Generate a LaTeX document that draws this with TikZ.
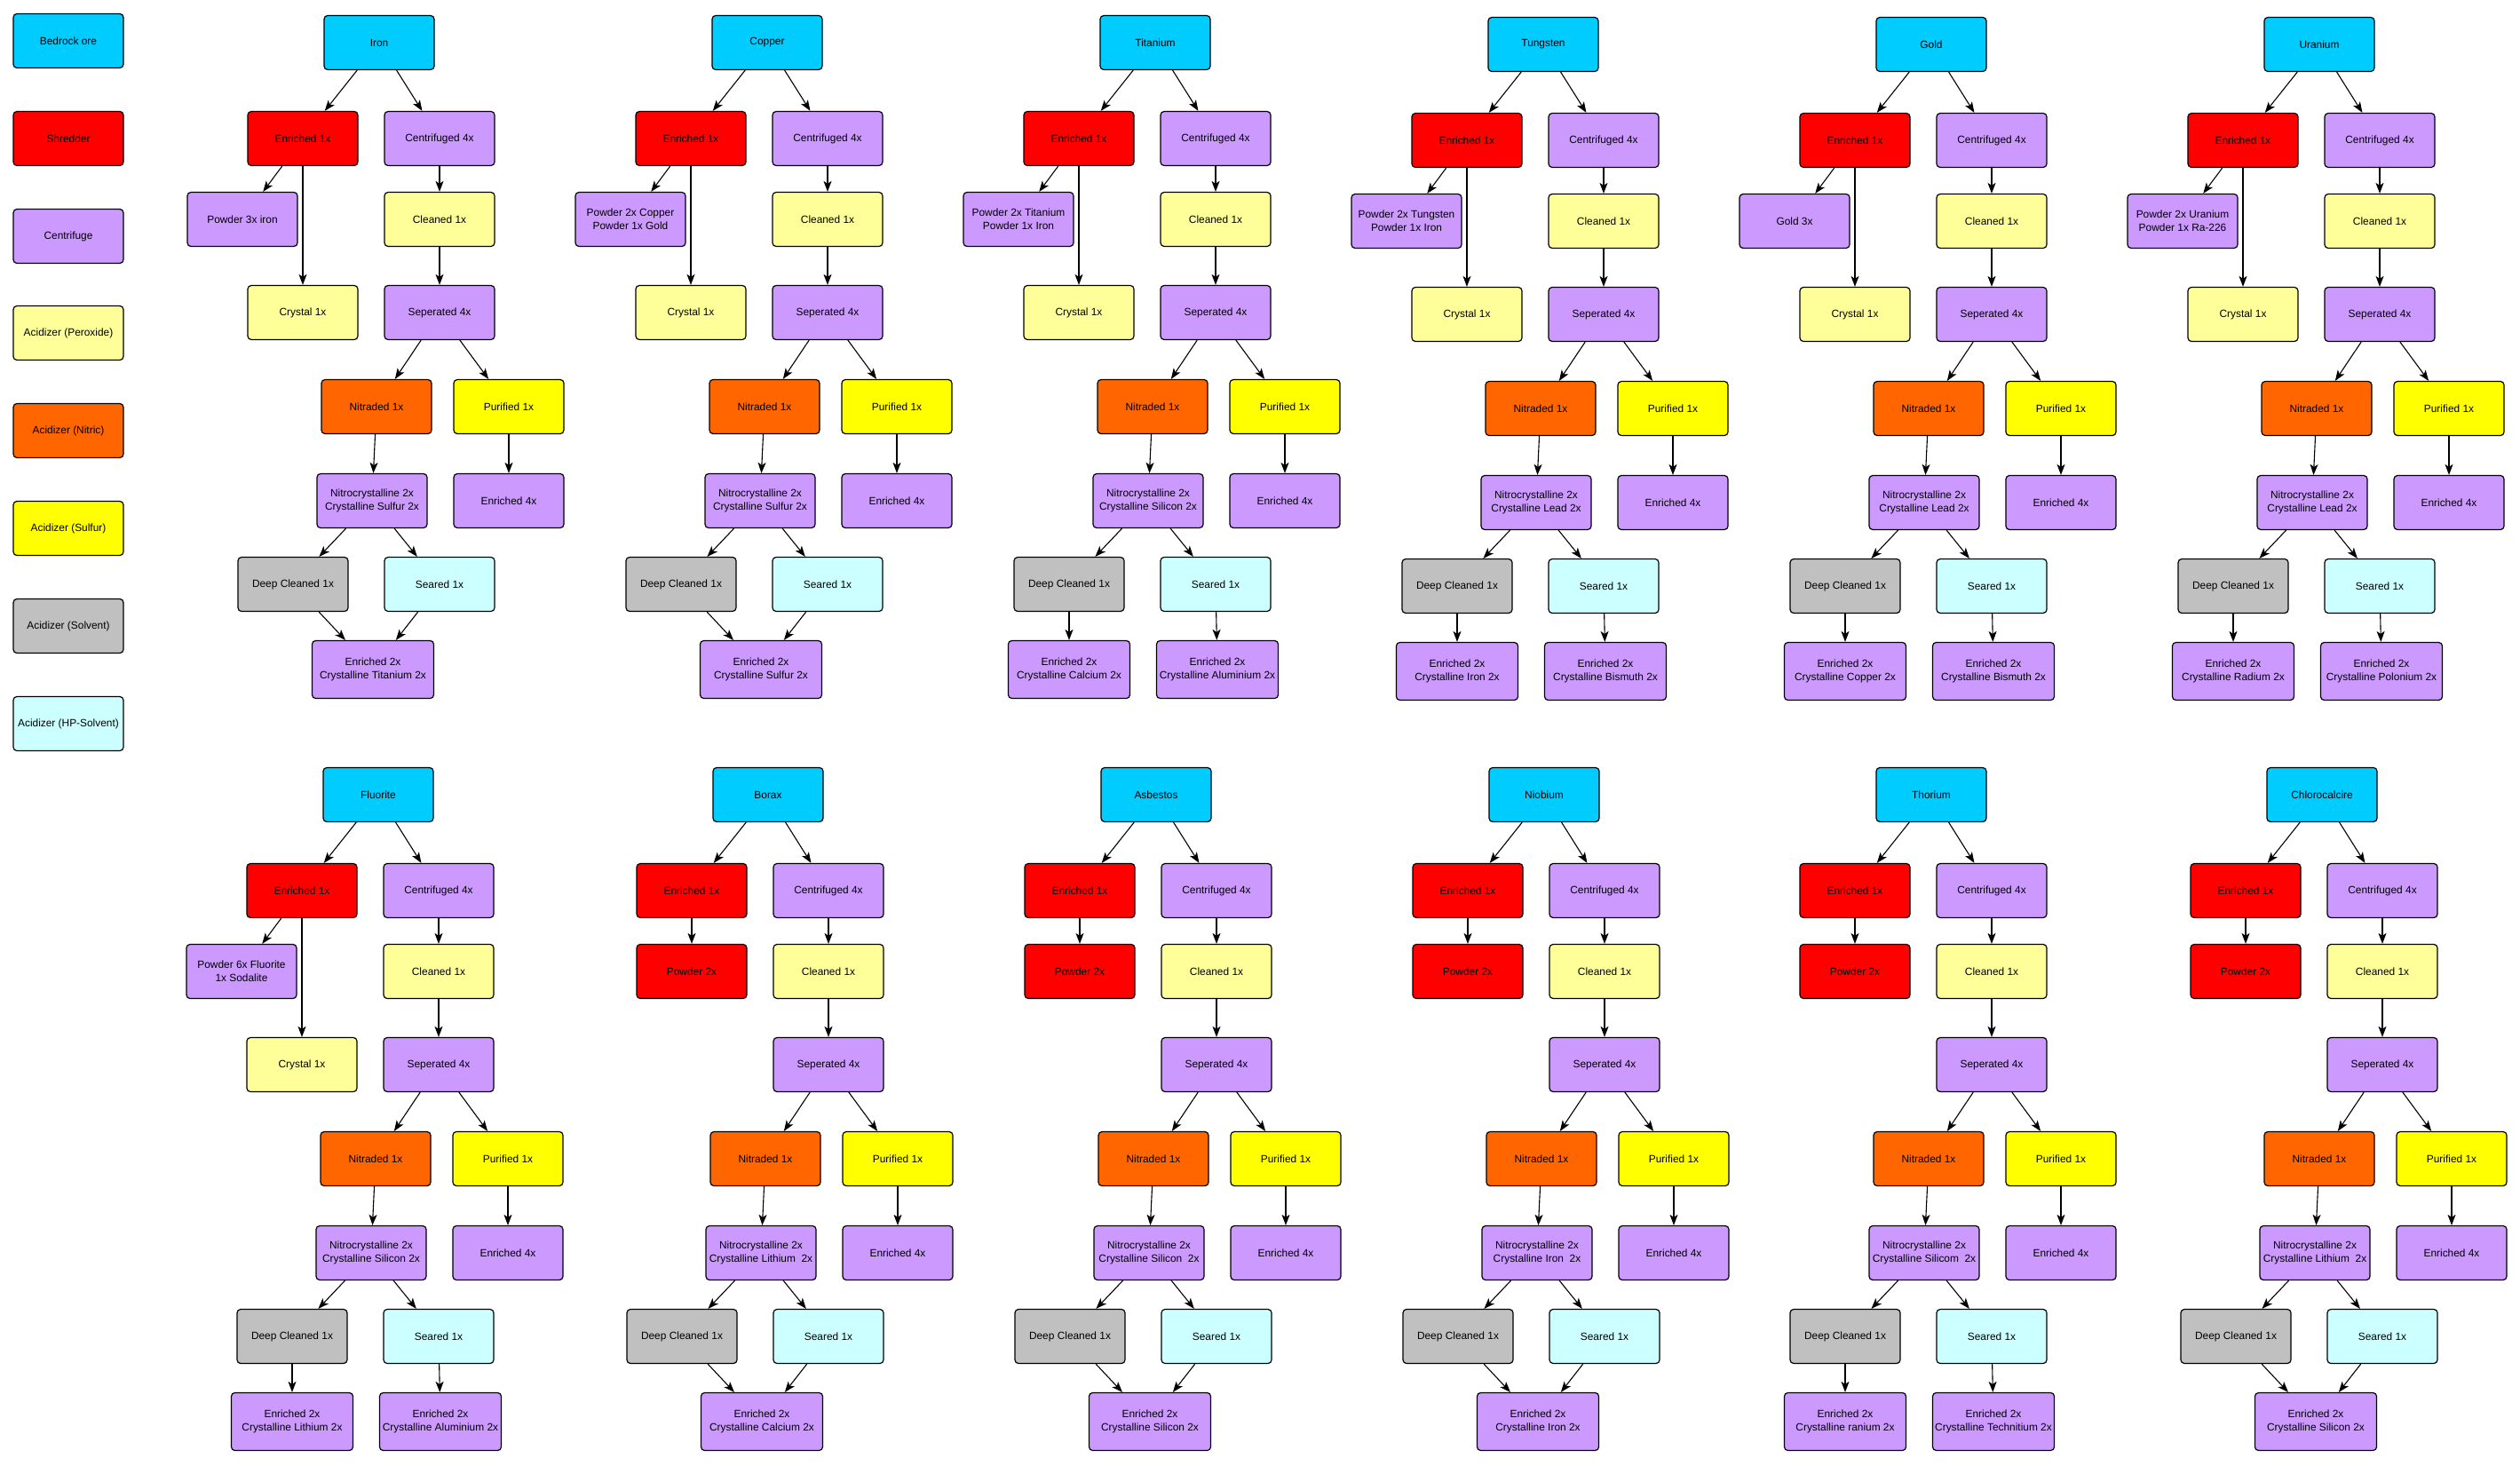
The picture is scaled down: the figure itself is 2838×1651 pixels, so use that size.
\documentclass[tikz,border=0pt]{standalone}
\usepackage{fontspec}
\setmainfont{Liberation Sans}
\usetikzlibrary{arrows.meta}
\definecolor{oreC}{HTML}{00CCFF}
\definecolor{shredC}{HTML}{FF0000}
\definecolor{centC}{HTML}{CC99FF}
\definecolor{peroxC}{HTML}{FFFF99}
\definecolor{nitricC}{HTML}{FF6600}
\definecolor{sulfC}{HTML}{FFFF00}
\definecolor{solvC}{HTML}{C0C0C0}
\definecolor{hpC}{HTML}{CCFFFF}
\tikzset{
  boxBase/.style={draw=black, line width=1.2pt, rounded corners=4pt,
    minimum width=124pt, minimum height=61pt, inner sep=1pt, align=center,
    font=\fontsize{11.9}{14.6}\selectfont, text=black},
  oreBox/.style={boxBase, fill=oreC},
  shredBox/.style={boxBase, fill=shredC},
  centBox/.style={boxBase, fill=centC},
  peroxBox/.style={boxBase, fill=peroxC},
  nitricBox/.style={boxBase, fill=nitricC},
  sulfBox/.style={boxBase, fill=sulfC},
  solvBox/.style={boxBase, fill=solvC},
  hpBox/.style={boxBase, fill=hpC},
  wideBox/.style={centBox, minimum width=137pt, minimum height=65pt},
  flow/.style={draw=black, line width=1.1pt, -{Stealth[length=12pt,width=9pt,inset=3pt]}},
}
% id, x, y-offset, root label, nitro 2nd line, extra content
\newcommand{\oretree}[6]{%
\begin{scope}[shift={(#2,#3)}]
\node[oreBox] (#1-r) at (0,48) {#4};
\node[shredBox] (#1-e) at (-86,156) {Enriched 1x};
\node[centBox] (#1-c) at (68,156) {Centrifuged 4x};
\node[peroxBox] (#1-cl) at (68,247) {Cleaned 1x};
\node[centBox] (#1-s) at (68,352) {Seperated 4x};
\node[nitricBox] (#1-n) at (-3,458) {Nitraded 1x};
\node[sulfBox] (#1-p) at (146,458) {Purified 1x};
\node[centBox] (#1-nc) at (-8,564) {Nitrocrystalline 2x\\#5};
\node[centBox] (#1-e4) at (146,564) {Enriched 4x};
\node[solvBox] (#1-dc) at (-97,658) {Deep Cleaned 1x};
\node[hpBox] (#1-se) at (68,658) {Seared 1x};
\draw[flow] (#1-r) -- (#1-e);
\draw[flow] (#1-r) -- (#1-c);
\draw[flow] (#1-c) -- (#1-cl);
\draw[flow] (#1-cl) -- (#1-s);
\draw[flow] (#1-s) -- (#1-n);
\draw[flow] (#1-s) -- (#1-p);
\draw[flow] (#1-n) -- (#1-nc);
\draw[flow] (#1-p) -- (#1-e4);
\draw[flow] (#1-nc) -- (#1-dc);
\draw[flow] (#1-nc) -- (#1-se);
#6
\end{scope}}
\newcommand{\powA}[2]{%
\node[centBox] (#1-pw) at (-154,247) {#2};
\node[peroxBox] (#1-cr) at (-86,352) {Crystal 1x};
\draw[flow] (#1-e) -- (#1-pw);
\draw[flow] (#1-e) -- (#1-cr);}
\newcommand{\powB}[1]{%
\node[shredBox] (#1-pw) at (-86,247) {Powder 2x};
\draw[flow] (#1-e) -- (#1-pw);}
\newcommand{\prodM}[2]{%
\node[wideBox] (#1-f) at (-7,754) {Enriched 2x\\#2};
\draw[flow] (#1-dc) -- (#1-f);
\draw[flow] (#1-se) -- (#1-f);}
\newcommand{\prodS}[3]{%
\node[wideBox] (#1-fa) at (-97,754) {Enriched 2x\\#2};
\node[wideBox] (#1-fb) at (70,754) {Enriched 2x\\#3};
\draw[flow] (#1-dc) -- (#1-fa);
\draw[flow] (#1-se) -- (#1-fb);}
\begin{document}
\begin{tikzpicture}[x=1pt,y=-1pt]
\fill[white] (0,0) rectangle (2838,1651);
\useasboundingbox (0,0) rectangle (2838,1651);
% legend
\node[oreBox] (lg1) at (77,46) {Bedrock ore};
\node[shredBox] (lg2) at (77,156) {Shredder};
\node[centBox] (lg3) at (77,266) {Centrifuge};
\node[peroxBox] (lg4) at (77,375) {Acidizer (Peroxide)};
\node[nitricBox] (lg5) at (77,485) {Acidizer (Nitric)};
\node[sulfBox] (lg6) at (77,595) {Acidizer (Sulfur)};
\node[solvBox] (lg7) at (77,705) {Acidizer (Solvent)};
\node[hpBox] (lg8) at (77,815) {Acidizer (HP-Solvent)};
% top row
\oretree{fe}{427}{0}{Iron}{Crystalline Sulfur 2x}{\powA{fe}{Powder 3x iron}\prodM{fe}{Crystalline Titanium 2x}}
\oretree{cu}{864}{0}{Copper}{Crystalline Sulfur 2x}{\powA{cu}{Powder 2x Copper\\Powder 1x Gold}\prodM{cu}{Crystalline Sulfur 2x}}
\oretree{ti}{1301}{0}{Titanium}{Crystalline Silicon 2x}{\powA{ti}{Powder 2x Titanium\\Powder 1x Iron}\prodS{ti}{Crystalline Calcium 2x}{Crystalline Aluminium 2x}}
\oretree{w}{1738}{2}{Tungsten}{Crystalline Lead 2x}{\powA{w}{Powder 2x Tungsten\\Powder 1x Iron}\prodS{w}{Crystalline Iron 2x}{Crystalline Bismuth 2x}}
\oretree{au}{2175}{2}{Gold}{Crystalline Lead 2x}{\powA{au}{Gold 3x}\prodS{au}{Crystalline Copper 2x}{Crystalline Bismuth 2x}}
\oretree{u}{2612}{2}{Uranium}{Crystalline Lead 2x}{\powA{u}{Powder 2x Uranium\\Powder 1x Ra-226}\prodS{u}{Crystalline Radium 2x}{Crystalline Polonium 2x}}
% bottom row
\oretree{fl}{426}{847}{Fluorite}{Crystalline Silicon 2x}{\powA{fl}{Powder 6x Fluorite\\1x Sodalite}\prodS{fl}{Crystalline Lithium 2x}{Crystalline Aluminium 2x}}
\oretree{bo}{865}{847}{Borax}{Crystalline Lithium\ \ 2x}{\powB{bo}\prodM{bo}{Crystalline Calcium 2x}}
\oretree{as}{1302}{847}{Asbestos}{Crystalline Silicon\ \ 2x}{\powB{as}\prodM{as}{Crystalline Silicon 2x}}
\oretree{nb}{1739}{847}{Niobium}{Crystalline Iron\ \ 2x}{\powB{nb}\prodM{nb}{Crystalline Iron 2x}}
\oretree{th}{2175}{847}{Thorium}{Crystalline Silicom\ \ 2x}{\powB{th}\prodS{th}{Crystalline ranium 2x}{Crystalline Technitium 2x}}
\oretree{cl}{2615}{847}{Chlorocalcire}{Crystalline Lithium\ \ 2x}{\powB{cl}\prodM{cl}{Crystalline Silicon 2x}}
\end{tikzpicture}
\end{document}
